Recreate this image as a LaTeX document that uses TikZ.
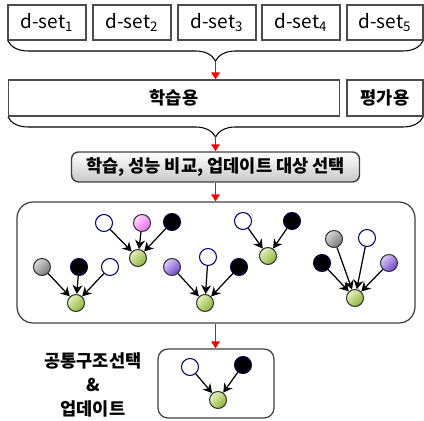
\documentclass[tikz,border=0pt]{standalone}
\usepackage{fontspec}
\setmainfont{Noto Sans CJK KR}
\usepackage{tikz}
\usetikzlibrary{arrows.meta,decorations.pathreplacing,positioning}

\definecolor{leafhi}{HTML}{E4F2BC}
\definecolor{leaflo}{HTML}{8DB33A}
\definecolor{grayhi}{HTML}{DADADA}
\definecolor{graylo}{HTML}{767676}
\definecolor{purphi}{HTML}{DCCCFA}
\definecolor{purplo}{HTML}{6E44C6}
\definecolor{pinkhi}{HTML}{FFD4FF}
\definecolor{pinklo}{HTML}{F06CF0}

\tikzset{
  setbox/.style={draw=black!70, line width=0.6pt, minimum height=0.7cm, inner sep=0pt,
    font=\fontsize{10.8}{12}\selectfont},
  kor/.style={font=\fontsize{10}{13.5}\selectfont\bfseries},
  redarr/.style={red, line width=0.9pt, -{Triangle[length=1.4mm,width=1.7mm]}},
  brc/.style={decorate, decoration={brace, mirror, amplitude=0.4cm}, line width=0.6pt},
  vtx/.style={circle, minimum size=0.34cm, inner sep=0pt, line width=0.6pt},
  wht/.style={vtx, draw=blue!45!black, fill=white},
  blk/.style={vtx, draw=blue!30!black, fill=black},
  grn/.style={vtx, draw=black!80, top color=leafhi, bottom color=leaflo, shading angle=45},
  gry/.style={vtx, draw=black!80, top color=grayhi, bottom color=graylo, shading angle=45},
  prp/.style={vtx, draw=black!80, top color=purphi, bottom color=purplo, shading angle=45},
  pnk/.style={vtx, draw=black!80, top color=pinkhi, bottom color=pinklo, shading angle=45},
  edge/.style={line width=0.7pt, -{Stealth[length=1.8mm,width=2mm]}}
}

\begin{document}
\begin{tikzpicture}[x=0.02cm, y=-0.02cm]
  \useasboundingbox (0,0) rectangle (424,421);

  % data sets
  \foreach \i/\x in {1/47,2/132,3/217,4/301}
    \node[setbox, minimum width=1.56cm] (set\i) at (\x,22.5) {d-set\textsubscript{\i}};
  \node[setbox, minimum width=1.52cm] (set5) at (385,22.5) {d-set\textsubscript{5}};

  \draw[brc] (8,41) -- (423,41);
  \coordinate (tip1) at (215.5,62);

  % training / evaluation split
  \node[setbox, kor, minimum width=6.64cm, minimum height=0.72cm] (train) at (174,98) {학습용};
  \node[setbox, kor, minimum width=1.52cm, minimum height=0.72cm] (eval) at (385,98) {평가용};
  \draw[redarr] (tip1) -- (tip1 |- train.north);

  \draw[brc] (8,117) -- (423,117);
  \coordinate (tip2) at (215.5,136);

  \node[kor, draw=black!75, line width=0.8pt, rounded corners=4pt, top color=white, bottom color=black!22,
        minimum width=5.76cm, minimum height=0.6cm, inner sep=0pt] (select) at (215.5,167)
        {학습, 성능 비교, 업데이트 대상 선택};
  \draw[redarr] (tip2) -- (select.north);

  % candidate structures
  \node[draw=black!75, line width=0.7pt, rounded corners=0.32cm, minimum width=7.96cm,
        minimum height=2.42cm] (cands) at (216,262.5) {};
  \draw[redarr] (select.south) -- (select.south |- cands.north);

  \node[wht] (aw) at (104,223) {};
  \node[pnk] (ap) at (142,223) {};
  \node[blk] (ab) at (172,222) {};
  \node[grn] (ag) at (138,258) {};
  \foreach \p in {aw,ap,ab} \draw[edge] (\p) -- (ag);

  \node[gry] (bgr) at (42,267) {};
  \node[blk] (bb) at (79,267) {};
  \node[wht] (bw) at (110,267) {};
  \node[grn] (bg) at (76,303) {};
  \foreach \p in {bgr,bb,bw} \draw[edge] (\p) -- (bg);

  \node[prp] (cp) at (172,267) {};
  \node[wht] (cw) at (208,257) {};
  \node[blk] (cb) at (239,267) {};
  \node[grn] (cg) at (205,303) {};
  \foreach \p in {cp,cw,cb} \draw[edge] (\p) -- (cg);

  \node[wht] (dw) at (243,221) {};
  \node[blk] (db) at (292,221) {};
  \node[grn] (dg) at (268,256) {};
  \foreach \p in {dw,db} \draw[edge] (\p) -- (dg);

  \node[gry] (egr) at (334,239) {};
  \node[wht] (ew) at (367,238) {};
  \node[blk] (eb) at (322,263) {};
  \node[prp] (ep) at (389,263) {};
  \node[grn] (eg) at (355,298) {};
  \foreach \p in {egr,ew,eb,ep} \draw[edge] (\p) -- (eg);

  % common structure
  \node[draw=black!75, line width=0.7pt, rounded corners=0.2cm, minimum width=2.32cm,
        minimum height=1.38cm] (common) at (216,383.5) {};
  \draw[redarr] (cands.south -| select.south) -- (select.south |- common.north);

  \node[wht] (fw) at (190,367) {};
  \node[blk] (fb) at (243,365) {};
  \node[grn] (fg) at (218,400) {};
  \foreach \p in {fw,fb} \draw[edge] (\p) -- (fg);

  \node[kor, align=center] (update) at (93,385) {공통구조선택\\\&\\업데이트};
\end{tikzpicture}
\end{document}
